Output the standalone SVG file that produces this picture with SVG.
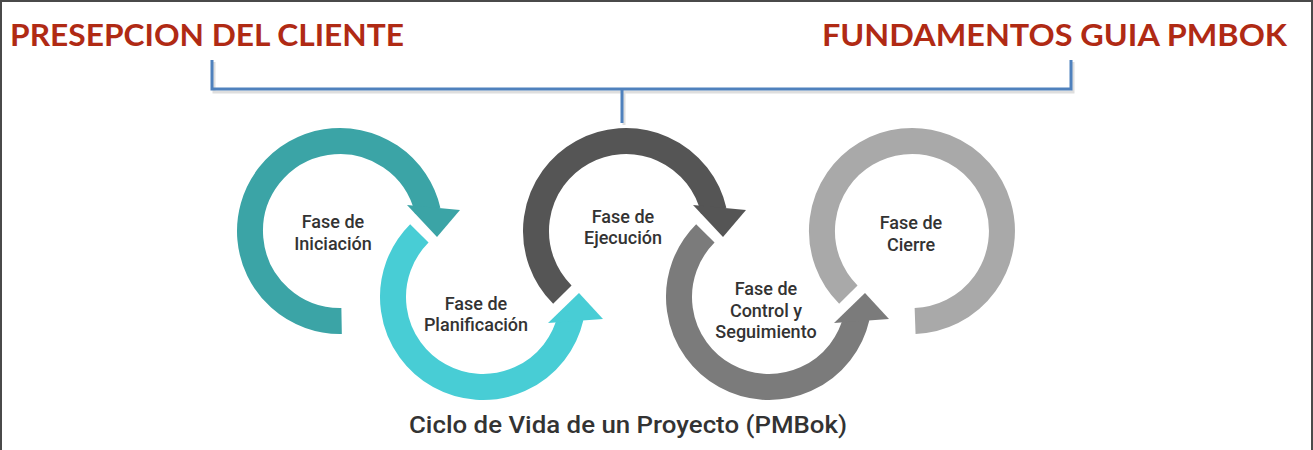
<svg xmlns="http://www.w3.org/2000/svg" width="1313" height="450" viewBox="0 0 1313 450">
  <style>
    .title { font-family: Lato, "Liberation Sans", sans-serif; font-weight: 700; font-size: 31px; fill: #b02a14; }
    .lbl { font-family: Roboto, "Liberation Sans", sans-serif; font-weight: 500; font-size: 18px; fill: #333333; text-anchor: middle; }
    .cap { font-family: Roboto, "Liberation Sans", sans-serif; font-weight: 500; font-size: 24px; fill: #333333; }
    .ring { fill: none; stroke-width: 26; stroke-linecap: butt; }
    .brk { fill: none; stroke: #4f81bd; stroke-width: 3; }
    .brks { fill: none; stroke: #c8c8c8; stroke-width: 3; opacity: 0.6; }
  </style>
  <rect x="0" y="0" width="1313" height="450" fill="#ffffff"/>
  <path d="M1 450 V1 H1312 V450" fill="none" stroke="#4a4a4a" stroke-width="2"/>

  <g id="title-left">
    <text class="title" x="10" y="46" textLength="394" lengthAdjust="spacingAndGlyphs">PRESEPCION DEL CLIENTE</text>
  </g>
  <g id="title-right">
    <text class="title" x="822" y="46" textLength="465" lengthAdjust="spacingAndGlyphs">FUNDAMENTOS GUIA PMBOK</text>
  </g>

  <g id="connectors">
    <path class="brks" d="M214 62 V92 H1073 V62 M624 92 V125"/>
    <path class="brk" d="M212 60 V89 H1071 V60 M622 89 V123"/>
  </g>

  <g id="fase-iniciacion">
    <path class="ring" stroke="#3ba4a6" d="M341.6 321 A90 90 0 1 1 427.69 210.75"/>
    <polygon fill="#3ba4a6" points="407,205 460,210 437,237"/>
    <text class="lbl" x="333" y="228">Fase de</text>
    <text class="lbl" x="333" y="250">Iniciación</text>
  </g>

  <g id="fase-planificacion">
    <path class="ring" stroke="#48cdd5" d="M419.36 233.36 A90 90 0 1 0 570.69 317.25"/>
    <polygon fill="#48cdd5" points="548,323 603,319 579,293"/>
    <text class="lbl" x="476" y="310">Fase de</text>
    <text class="lbl" x="476" y="331">Planificación</text>
  </g>

  <g id="fase-ejecucion">
    <path class="ring" stroke="#555555" d="M562.36 294.64 A90 90 0 1 1 713.69 210.75"/>
    <polygon fill="#555555" points="693,205 746,210 723,237"/>
    <text class="lbl" x="623" y="223">Fase de</text>
    <text class="lbl" x="623" y="244">Ejecución</text>
  </g>

  <g id="fase-control">
    <path class="ring" stroke="#7b7b7b" d="M705.36 233.36 A90 90 0 1 0 856.69 317.25"/>
    <polygon fill="#7b7b7b" points="834,323 889,319 865,293"/>
    <text class="lbl" x="766" y="295">Fase de</text>
    <text class="lbl" x="766" y="317">Control y</text>
    <text class="lbl" x="766" y="338">Seguimiento</text>
  </g>

  <g id="fase-cierre">
    <path class="ring" stroke="#a9a9a9" d="M848.36 294.64 A90 90 0 1 1 915.1 320.9"/>
    <text class="lbl" x="911" y="229">Fase de</text>
    <text class="lbl" x="911" y="251">Cierre</text>
  </g>

  <g id="caption">
    <text class="cap" x="409" y="433" textLength="438" lengthAdjust="spacingAndGlyphs">Ciclo de Vida de un Proyecto (PMBok)</text>
  </g>
</svg>
